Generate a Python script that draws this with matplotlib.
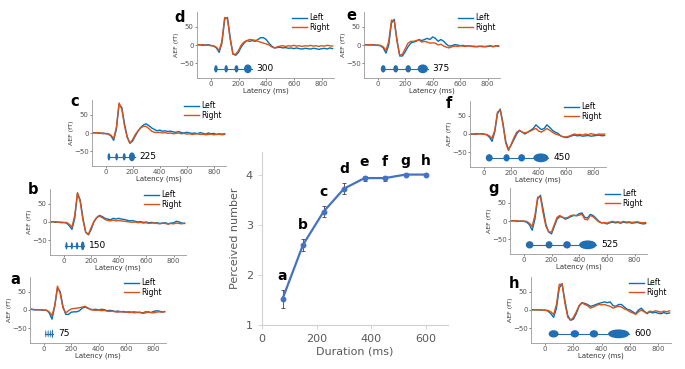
import matplotlib
matplotlib.use('Agg')
import numpy as np
import matplotlib.pyplot as plt
from matplotlib.patches import Ellipse

# ---- central panel: perceived number vs duration ----
durations = [75, 150, 225, 300, 375, 450, 525, 600]
perceived = [1.52, 2.60, 3.26, 3.72, 3.93, 3.93, 4.00, 4.00]
perceived_err = [0.18, 0.12, 0.11, 0.11, 0.05, 0.05, 0.0, 0.0]
letters = ['a', 'b', 'c', 'd', 'e', 'f', 'g', 'h']

# ---- AEF traces (fT), sampled every 20 ms ----
latency = list(range(-100, 881, 20))

a_left = [2, 1, 0, 1, 0, -1, 0, -8, -25, 10, 60, 50, 10, -12, -12, -6, -5, -5, -2, 5, 8, 5, 2, 1, 2, 0, 2, 1, -2, -1,
          -2, -4, -3, -5, -4, -6, -5, -6, -5, -7, -6, -8, -5, -5, -7, -4, -2, -3, -5, -5]
a_right = [3, 2, 1, 0, 1, 0, -1, -5, -15, 12, 65, 45, 5, -8, -2, 3, 4, 5, 6, 8, 10, 6, 1, 0, -1, 0, -2, -1, -3, -4,
           -3, -5, -6, -4, -6, -5, -7, -6, -8, -6, -7, -9, -8, -6, -7, -8, -6, -5, -6, -4]
b_left = [0, 1, -1, 0, -2, -1, -3, -10, -20, 10, 78, 60, 10, -28, -35, -20, 0, 12, 18, 15, 10, 8, 6, 10, 8, 10, 8, 7,
          5, 3, 4, 2, 0, 1, -1, 0, -2, -1, -3, -2, -4, -3, -2, -5, -3, -2, 2, 0, -3, -4]
b_right = [1, 0, 1, -1, 0, -2, -1, -6, -14, 18, 80, 55, 5, -28, -33, -15, 2, 12, 16, 12, 7, 4, 3, 5, 3, 4, 3, 2, 1, 0,
           -1, 0, -2, -1, -3, -2, -4, -3, -2, -4, -5, -3, -4, -6, -4, -5, -3, -4, -5, -3]
c_left = [0, 1, 0, -1, 0, -2, -3, -8, -20, 10, 78, 70, 25, -10, -28, -22, -8, 5, 15, 22, 25, 20, 14, 10, 6, 8, 5, 6,
          4, 5, 3, 2, 4, 1, 0, 2, 0, -1, 0, -2, 1, -1, -3, 0, -2, -1, -4, -2, -3, -2]
c_right = [1, 0, 1, 0, -2, -1, -2, -6, -15, 15, 82, 65, 20, -12, -28, -18, -4, 6, 14, 18, 18, 12, 5, 2, 1, 2, 0, 1,
           -1, 0, -2, -1, 0, -2, -1, -3, -2, -4, -3, -2, -4, -3, -5, -4, -3, -5, -4, -3, -5, -4]
d_left = [0, 1, -1, 0, 1, -1, -3, -8, -20, 5, 70, 75, 20, -25, -28, -20, -5, 5, 12, 10, 12, 10, 15, 20, 20, 15, 5,
          -3, -8, -7, -6, -8, -7, -9, -8, -10, -8, -10, -11, -9, -10, -11, -9, -10, -12, -10, -9, -11, -8, -10]
d_right = [1, 0, 1, -1, 0, -2, -2, -6, -15, 10, 75, 72, 15, -25, -25, -15, 0, 8, 12, 15, 14, 13, 10, 8, 5, 3, 0, -5,
           -8, -5, -3, -2, -4, -2, -3, -1, -3, -2, -4, -2, -3, -1, -3, -2, -4, -2, -3, -1, -2, -3]
e_left = [0, 1, 0, 1, 0, -1, -2, -8, -22, 0, 60, 70, 15, -30, -30, -18, -5, 5, 8, 10, 15, 12, 15, 18, 15, 22, 18,
          10, 15, 10, 2, -3, -2, 1, 0, -2, -1, -3, -2, -4, -3, -5, -4, -3, -5, -4, -3, -5, -2, -4]
e_right = [1, 0, 1, 0, -1, 0, -1, -5, -15, 10, 68, 65, 10, -28, -25, -10, 5, 10, 10, 12, 14, 8, 10, 8, 5, 6, 5, 0, 2,
           -3, -6, -8, -5, -3, -4, -2, -3, -4, -2, -3, -5, -4, -3, -5, -4, -3, -2, -4, -3, -2]
f_left = [0, -1, 1, 0, 1, 0, -2, -8, -20, 5, 55, 68, 30, -20, -42, -30, -15, 0, 10, 5, 0, 5, 10, 15, 25, 18, 12, 15,
          25, 18, 10, 5, 2, -5, -8, -10, -8, -5, -3, -5, -4, -6, -5, -4, -6, -5, -4, -3, -5, -4]
f_right = [1, 0, -1, 1, 0, -1, -1, -5, -12, 10, 60, 65, 25, -25, -45, -28, -10, 5, 10, 5, 3, 5, 8, 12, 15, 8, 5, 10,
           15, 10, 5, 0, -2, -5, -8, -8, -6, -3, 0, -2, -1, -3, 0, -2, 1, -1, -2, 0, -1, 0]
g_left = [0, 1, 0, -1, 0, -1, -3, -10, -25, 5, 60, 70, 30, -10, -30, -35, -15, 5, 12, 10, 5, 8, 12, 15, 15, 20, 22,
          10, 8, 18, 15, 8, 0, -5, -5, -8, -5, -3, -5, -4, -6, -3, -5, -4, -6, -5, -4, -6, -8, -7]
g_right = [1, 0, 1, 0, -1, 0, -1, -6, -15, 15, 65, 65, 20, -15, -30, -30, -10, 10, 15, 10, 8, 10, 15, 16, 14, 16, 18,
           5, 3, 15, 12, 5, -2, -5, -4, -6, -3, -1, -3, -2, -4, -1, -3, -2, -4, -3, -2, -4, -5, -4]
h_left = [0, 1, 0, 1, -1, 0, -3, -10, -20, 5, 60, 72, 25, -15, -28, -25, -10, 10, 20, 18, 15, 10, 12, 15, 18, 20, 22,
          20, 22, 12, 10, 15, 15, 8, 2, 0, -5, -10, 0, 5, -3, -10, -5, -8, -6, -9, -10, -7, -10, -8]
h_right = [1, 0, 1, 0, 0, -1, -1, -5, -12, 15, 70, 70, 18, -20, -28, -20, -5, 12, 20, 15, 12, 5, 8, 12, 15, 14, 15,
           12, 10, 5, 8, 10, 8, 3, 0, -5, -8, -12, -5, 0, -5, -8, -3, -5, -2, -4, -6, -3, -5, -2]

left_traces = [a_left, b_left, c_left, d_left, e_left, f_left, g_left, h_left]
right_traces = [a_right, b_right, c_right, d_right, e_right, f_right, g_right, h_right]

# ---- stimulus sketches: 4 sounds per trial (centre, width in ms) ----
stim_centers = [[15, 32, 48, 63], [20, 59, 97, 138], [25, 82, 138, 195], [37, 111, 185, 267],
                [40, 131, 222, 328], [40, 166, 276, 416], [42, 182, 312, 462], [60, 210, 345, 520]]
stim_widths = [[8, 8, 8, 10], [16, 16, 18, 26], [20, 20, 22, 45], [25, 25, 28, 55],
               [35, 35, 40, 75], [50, 45, 50, 110], [55, 50, 55, 125], [70, 60, 60, 150]]

# panel placement in pixels: (left, top, width)
panel_px = [(30, 277, 136), (50, 189, 136), (92, 100, 134), (197, 12, 137),
            (364, 12, 136), (470, 101, 136), (510, 188, 137), (531, 277, 140)]
letter_px = [(10, 279), (28, 190), (70, 102), (174, 17), (346, 15), (446, 103), (488, 188), (509, 283)]

W, H = 685, 369
blue = '#0072BD'
orange = '#D95319'
stim_col = '#1F6FB2'

fig = plt.figure(figsize=(W / 100, H / 100), dpi=100)
fig.patch.set_facecolor('white')

for i in range(8):
    lx, ty, pw = panel_px[i]
    ax = fig.add_axes([lx / W, 1 - (ty + 66) / H, pw / W, 66 / H])
    ax.plot(latency, left_traces[i], color=blue, lw=1.0, label='Left')
    ax.plot(latency, right_traces[i], color=orange, lw=1.0, label='Right')
    cs, ws = stim_centers[i], stim_widths[i]
    ax.plot([cs[0] - ws[0] / 2, cs[-1] + ws[-1] / 2], [-65, -65], color=stim_col, lw=0.8)
    for k, (c, w) in enumerate(zip(cs, ws)):
        hgt = 24 if k == 3 else 20
        ax.add_patch(Ellipse((c, -65), w, hgt, color=stim_col, lw=0))
    ax.text(cs[-1] + ws[-1] / 2 + 35, -65, str(durations[i]), fontsize=6.5, va='center', ha='left')
    ax.set_xlim(-100, 890)
    ax.set_ylim(-90, 90)
    ax.set_xticks([0, 200, 400, 600, 800])
    ax.set_yticks([-50, 0, 50])
    ax.tick_params(labelsize=5, length=1.5, width=0.5, colors='#555555', pad=1)
    for s in ['top', 'right']:
        ax.spines[s].set_visible(False)
    for s in ['left', 'bottom']:
        ax.spines[s].set_color('#999999')
        ax.spines[s].set_linewidth(0.6)
    ax.set_xlabel('Latency (ms)', fontsize=5, labelpad=0, color='#333333')
    ax.set_ylabel('AEF (fT)', fontsize=4.5, labelpad=0, color='#333333')
    ax.legend(loc='upper right', bbox_to_anchor=(1.0, 1.05), fontsize=5.5, frameon=False,
              handlelength=2.0, handletextpad=0.2, labelspacing=0.1, borderpad=0.1)
    fig.text(letter_px[i][0] / W, 1 - letter_px[i][1] / H, letters[i], fontsize=10.5,
             fontweight='bold', ha='left', va='center')

# central panel
ax = fig.add_axes([262 / W, 1 - 325 / H, 186 / W, 173 / H])
ax.errorbar(durations, perceived, yerr=perceived_err, color='#4472C4', lw=1.6, marker='o', ms=3.2,
            ecolor='#404040', elinewidth=0.6, capsize=1.5, capthick=0.6)
for x, y, e, t in zip(durations, perceived, perceived_err, letters):
    ax.annotate(t, (x, y + e), xytext=(0, 5), textcoords='offset points', ha='center', va='bottom',
                fontsize=10, fontweight='bold')
ax.set_xlim(0, 680)
ax.set_ylim(1, 4.45)
ax.set_xticks([0, 200, 400, 600])
ax.set_yticks([1, 2, 3, 4])
ax.tick_params(labelsize=8, length=3, width=0.6, colors='#d0d0d0', labelcolor='#595959')
for s in ['top', 'right']:
    ax.spines[s].set_visible(False)
for s in ['left', 'bottom']:
    ax.spines[s].set_color('#d0d0d0')
ax.set_xlabel('Duration (ms)', fontsize=8, color='#595959', labelpad=2)
ax.set_ylabel('Perceived number', fontsize=8, color='#595959', labelpad=4)

fig.savefig('out.png', dpi=100)
print("Done")
